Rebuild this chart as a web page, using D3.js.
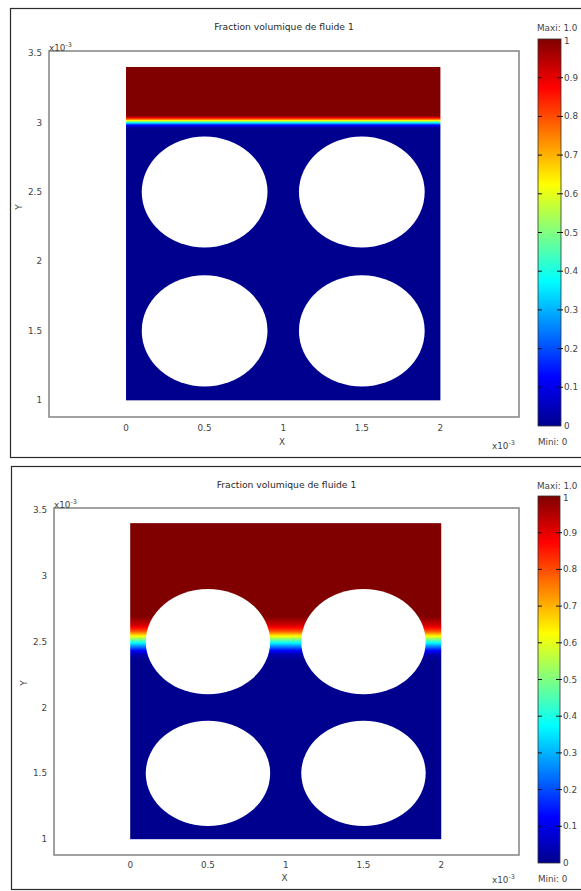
<!DOCTYPE html>
<html>
<head>
<meta charset="utf-8">
<script src="https://cdn.jsdelivr.net/npm/d3@7"></script>
<style>
  html, body { margin: 0; padding: 0; background: #fff; }
  svg { display: block; }
  text { font-family: "DejaVu Sans", Verdana, sans-serif; fill: #444; }
</style>
</head>
<body>
<svg id="fig" width="581" height="891"></svg>
<script>
// Geometry of the porous cell (units of 1e-3 m)
const cellX = [0, 2];
const cellY = [1, 3.4];
const holeX = [0.5, 1.5, 0.5, 1.5];
const holeY = [1.5, 1.5, 2.5, 2.5];
const holeR = 0.4;

// Axis ticks
const xTicks = [0, 0.5, 1, 1.5, 2];
const yTicks = [1, 1.5, 2, 2.5, 3, 3.5];
const cbarTicks = [0, 0.1, 0.2, 0.3, 0.4, 0.5, 0.6, 0.7, 0.8, 0.9, 1];
const cbarTickLabels = ["0", "0.1", "0.2", "0.3", "0.4", "0.5", "0.6", "0.7", "0.8", "0.9", "1"];

// Vertical volume-fraction profiles of fluid 1 (height -> fraction)
const profile1Y = [3.40, 3.05, 3.035, 3.022, 3.010, 3.000, 2.990, 2.980, 2.965, 2.950, 1.00];
const profile1F = [1, 1, 0.9, 0.75, 0.55, 0.4, 0.25, 0.12, 0.03, 0, 0];
const profile2Y = [3.40, 2.69, 2.625, 2.58, 2.545, 2.517, 2.49, 2.46, 2.43, 2.40, 2.36, 1.00];
const profile2F = [1, 1, 0.92, 0.8, 0.64, 0.5, 0.37, 0.24, 0.12, 0.03, 0, 0];

// Jet colour map
const jetStops = [0, 0.125, 0.375, 0.625, 0.875, 1];
const jetColors = ["#00008f", "#0000ff", "#00ffff", "#ffff00", "#ff0000", "#800000"];
const jet = d3.scaleLinear().domain(jetStops).range(jetColors).interpolate(d3.interpolateRgb).clamp(true);

const title = "Fraction volumique de fluide 1";

const panels = [
  {
    id: "p1", profY: profile1Y, profF: profile1F,
    frame: { x: 10, y: 8, w: 620, h: 449 },
    ax: { x0: 49, x1: 519, y0: 51, y1: 417 },
    titleY: 30,
    cbar: { x: 538, w: 23, y0: 39, y1: 426 },
    maxiY: 31, miniY: 445, xTickY: 431, xLabY: 445, expBotY: 449, yLabY: 207
  },
  {
    id: "p2", profY: profile2Y, profF: profile2F,
    frame: { x: 11, y: 466, w: 620, h: 423 },
    ax: { x0: 54, x1: 519, y0: 508, y1: 855 },
    titleY: 488,
    cbar: { x: 538, w: 22, y0: 496, y1: 863 },
    maxiY: 489, miniY: 882, xTickY: 868, xLabY: 881, expBotY: 883, yLabY: 683
  }
];

const svg = d3.select("#fig");
const defs = svg.append("defs");
const xDomain = [-0.49, 2.5];
const yDomain = [0.88, 3.515];

panels.forEach(p => {
  const g = svg.append("g");
  const x = d3.scaleLinear().domain(xDomain).range([p.ax.x0, p.ax.x1]);
  const y = d3.scaleLinear().domain(yDomain).range([p.ax.y1, p.ax.y0]);

  // outer frame
  g.append("rect")
    .attr("x", p.frame.x + 0.5).attr("y", p.frame.y + 0.5)
    .attr("width", p.frame.w).attr("height", p.frame.h)
    .attr("fill", "none").attr("stroke", "#2a2a2a").attr("stroke-width", 1.2);

  // title
  g.append("text").attr("x", (p.ax.x0 + p.ax.x1) / 2).attr("y", p.titleY)
    .attr("text-anchor", "middle").attr("font-size", 9.2).style("fill", "#2a2a2a")
    .text(title);

  // field gradient built from the profile
  const gy1 = y(cellY[1]), gy2 = y(cellY[0]);
  const grad = defs.append("linearGradient").attr("id", "field-" + p.id)
    .attr("gradientUnits", "userSpaceOnUse")
    .attr("x1", 0).attr("x2", 0).attr("y1", gy1).attr("y2", gy2);
  for (let i = 0; i < p.profY.length - 1; i++) {
    const n = 10;
    for (let k = 0; k <= n; k++) {
      const t = k / n;
      const yy = p.profY[i] + (p.profY[i + 1] - p.profY[i]) * t;
      const ff = p.profF[i] + (p.profF[i + 1] - p.profF[i]) * t;
      grad.append("stop")
        .attr("offset", (y(yy) - gy1) / (gy2 - gy1))
        .attr("stop-color", jet(ff));
    }
  }

  // axes box
  g.append("rect")
    .attr("x", p.ax.x0).attr("y", p.ax.y0)
    .attr("width", p.ax.x1 - p.ax.x0).attr("height", p.ax.y1 - p.ax.y0)
    .attr("fill", "#fff").attr("stroke", "#8a8a8a").attr("stroke-width", 1.6);

  // field
  g.append("rect")
    .attr("x", x(cellX[0])).attr("y", y(cellY[1]))
    .attr("width", x(cellX[1]) - x(cellX[0])).attr("height", y(cellY[0]) - y(cellY[1]))
    .attr("fill", `url(#field-${p.id})`);

  // holes (solid inclusions)
  g.selectAll("ellipse.hole").data(holeX.map((hx, i) => ({ hx, hy: holeY[i] })))
    .join("ellipse").attr("class", "hole")
    .attr("cx", d => x(d.hx)).attr("cy", d => y(d.hy))
    .attr("rx", d => x(d.hx + holeR) - x(d.hx))
    .attr("ry", d => y(d.hy - holeR) - y(d.hy))
    .attr("fill", "#fff");

  // x tick labels
  g.selectAll("text.xt").data(xTicks).join("text").attr("class", "xt")
    .attr("x", d => x(d)).attr("y", p.xTickY)
    .attr("text-anchor", "middle").attr("font-size", 8.8)
    .text(d => String(d));

  // y tick labels
  g.selectAll("text.yt").data(yTicks).join("text").attr("class", "yt")
    .attr("x", p.ax.x0 - 7).attr("y", d => y(d) + 3)
    .attr("text-anchor", "end").attr("font-size", 8.8)
    .text(d => String(d));

  // axis titles
  g.append("text").attr("x", (p.ax.x0 + p.ax.x1) / 2 - 2).attr("y", p.xLabY)
    .attr("text-anchor", "middle").attr("font-size", 8.8).text("X");
  g.append("text")
    .attr("transform", `translate(${p.ax.x0 - 27},${p.yLabY}) rotate(-90)`)
    .attr("text-anchor", "middle").attr("font-size", 8.8).text("Y");

  // exponent labels
  const expTop = g.append("text").attr("x", p.ax.x0).attr("y", p.ax.y0 - 0.5).attr("font-size", 8.8);
  expTop.append("tspan").text("x10");
  expTop.append("tspan").attr("dy", -4).attr("font-size", 6.5).text("-3");
  const expBot = g.append("text").attr("x", p.ax.x1 - 27).attr("y", p.expBotY).attr("font-size", 8.8);
  expBot.append("tspan").text("x10");
  expBot.append("tspan").attr("dy", -4).attr("font-size", 6.5).text("-3");

  // colour bar
  const cs = d3.scaleLinear().domain([0, 1]).range([p.cbar.y1, p.cbar.y0]);
  const cg = defs.append("linearGradient").attr("id", "cbar-" + p.id)
    .attr("x1", 0).attr("x2", 0).attr("y1", 1).attr("y2", 0);
  d3.range(0, 1.0001, 0.025).forEach(v => {
    cg.append("stop").attr("offset", v).attr("stop-color", jet(v));
  });
  g.append("rect")
    .attr("x", p.cbar.x).attr("y", cs(1))
    .attr("width", p.cbar.w).attr("height", cs(0) - cs(1))
    .attr("fill", `url(#cbar-${p.id})`)
    .attr("stroke", "#333").attr("stroke-width", 0.8);

  // colour bar ticks (inner left, crossing right edge)
  g.selectAll("line.ctl").data(cbarTicks.slice(1, -1)).join("line").attr("class", "ctl")
    .attr("x1", p.cbar.x).attr("x2", p.cbar.x + 4)
    .attr("y1", d => cs(d)).attr("y2", d => cs(d))
    .attr("stroke", "#111").attr("stroke-width", 1);
  g.selectAll("line.ctr").data(cbarTicks.slice(1, -1)).join("line").attr("class", "ctr")
    .attr("x1", p.cbar.x + p.cbar.w - 4).attr("x2", p.cbar.x + p.cbar.w + 2)
    .attr("y1", d => cs(d)).attr("y2", d => cs(d))
    .attr("stroke", "#111").attr("stroke-width", 1);

  g.selectAll("text.ct").data(cbarTicks).join("text").attr("class", "ct")
    .attr("x", p.cbar.x + p.cbar.w + 3)
    .attr("y", (d, i) => cs(d) + (i === cbarTicks.length - 1 ? 5 : 3))
    .attr("font-size", 8.8)
    .text((d, i) => cbarTickLabels[i]);

  g.append("text").attr("x", p.cbar.x - 1).attr("y", p.maxiY)
    .attr("font-size", 8.8).text("Maxi: 1.0");
  g.append("text").attr("x", p.cbar.x).attr("y", p.miniY)
    .attr("font-size", 8.8).text("Mini: 0");
});
</script>
</body>
</html>
